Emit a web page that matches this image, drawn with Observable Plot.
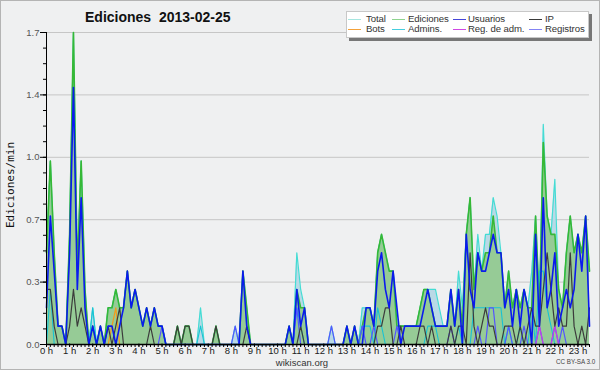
<!DOCTYPE html>
<html><head><meta charset="utf-8">
<script src="https://cdn.jsdelivr.net/npm/d3@7"></script>
<script src="https://cdn.jsdelivr.net/npm/@observablehq/plot@0.6"></script>
<style>
html,body{margin:0;padding:0;background:#f0f0f0}
#wrap{position:relative;width:600px;height:370px;background:#eff0f1;overflow:hidden;font-family:"Liberation Sans",Arial,sans-serif}
#frame{position:absolute;left:0;top:0;width:600px;height:370px;box-sizing:border-box;border:1px solid #b4b4b4;pointer-events:none}
#chart{position:absolute;left:0;top:0}
.t{position:absolute;white-space:pre;line-height:1}
#title{left:85px;top:10px;font-size:14px;font-weight:bold;color:#111}
#ylab{left:10px;top:185px;font-family:"DejaVu Sans Mono",monospace;font-size:11px;color:#111;transform:translate(-50%,-50%) rotate(-90deg)}
#site{left:302px;top:357.5px;font-size:9.5px;color:#333;transform:translateX(-50%)}
#cc{left:556px;top:359px;font-size:6.3px;color:#444}
#legend{position:absolute;left:346px;top:11px;width:243px;height:27px;background:#fff;border:1px solid #c8c8c8;box-shadow:3px 3px 0 #777;box-sizing:border-box}
.lg{position:absolute;font-size:9.6px;line-height:1;color:#333;white-space:pre;letter-spacing:-0.1px}
.sw{position:absolute;width:13px;height:1.2px}
</style></head>
<body><div id="wrap">
<div id="chart"></div>
<div class="t" id="title">Ediciones  2013-02-25</div>
<div class="t" id="ylab">Ediciones/min</div>
<div class="t" id="site">wikiscan.org</div>
<div class="t" id="cc">CC BY-SA 3.0</div>
<div id="legend"></div>
<div id="frame"></div>
</div>
<script>
// 10-minute buckets, 00:00 .. 23:30 (values in edits per minute)
const ediciones = [
 0.5,1.0,0.5,0.1,0.1,0,
 0.6,1.7,0.4,1.0,0.3,0,
 0.1,0,0.1,0,0.2,0.2,
 0.3,0.2,0.2,0.4,0.2,0.3,
 0.2,0.1,0.2,0.1,0.2,0.1,
 0.1,0,0,0,0.1,0,
 0.1,0.1,0,0,0,0,
 0,0,0.1,0,0,0,
 0,0,0,0.4,0.2,0,
 0,0,0,0,0,0,
 0,0,0,0.1,0,0.3,
 0.2,0.2,0,0,0,0,
 0,0,0,0,0,0,
 0.1,0,0.1,0,0.1,0.2,
 0.2,0.1,0.5,0.6,0.5,0.4,
 0.4,0.1,0.1,0.1,0.1,0.1,
 0.1,0.2,0.3,0.3,0.2,0.1,
 0.1,0.1,0.1,0.3,0.1,0.3,
 0.1,0.6,0.8,0.3,0.5,0.4,
 0.5,0.5,0.7,0.5,0.5,0.2,
 0.4,0.2,0.3,0.2,0.3,0.2,
 0.2,0.7,0.2,1.1,0.7,0.6,
 0.6,0.3,0.2,0.5,0.7,0.5,
 0.6,0.5,0.7,0.4];
const total = [
 0.5,1.0,0.5,0.1,0.1,0,
 0.6,1.7,0.4,1.0,0.3,0,
 0.2,0,0.1,0,0.2,0.2,
 0.3,0.2,0.2,0.4,0.2,0.3,
 0.2,0.1,0.2,0.1,0.2,0.1,
 0.1,0,0,0,0.1,0,
 0.1,0.1,0,0,0.2,0,
 0,0,0.1,0,0,0,
 0,0.1,0,0.4,0.2,0,
 0,0,0,0,0,0,
 0,0,0,0.1,0,0.5,
 0.3,0.2,0,0,0,0,
 0,0,0.1,0,0,0,
 0.1,0,0.1,0,0.2,0.2,
 0.2,0.1,0.5,0.6,0.5,0.4,
 0.4,0.1,0.1,0.1,0.1,0.1,
 0.1,0.2,0.3,0.3,0.3,0.3,
 0.2,0.1,0.1,0.3,0.1,0.4,
 0.2,0.6,0.8,0.3,0.6,0.4,
 0.6,0.6,0.8,0.7,0.5,0.2,
 0.4,0.2,0.3,0.2,0.3,0.2,
 0.4,0.7,0.2,1.2,0.7,0.6,
 0.9,0.3,0.2,0.5,0.7,0.5,
 0.6,0.5,0.7,0.4];
const usuarios = [
 0.2,0.7,0.4,0.1,0.1,0,
 0.5,1.4,0.3,0.8,0.2,0,
 0.1,0,0.1,0,0.1,0.1,
 0,0.1,0.2,0.4,0.2,0.3,
 0.2,0.1,0.2,0.1,0.2,0.1,
 0.1,0,0,0,0,0,
 0,0,0,0,0,0,
 0,0,0,0,0,0,
 0,0,0,0.4,0.1,0,
 0,0,0,0,0,0,
 0,0,0,0.1,0,0.3,
 0.1,0.2,0,0,0,0,
 0,0,0,0,0,0,
 0.1,0,0.1,0,0,0.2,
 0.2,0.1,0.4,0.5,0.3,0.2,
 0.4,0.2,0,0.1,0.1,0.1,
 0.1,0.1,0.2,0.3,0.2,0.1,
 0.1,0.1,0.1,0.3,0.1,0.3,
 0,0.6,0.3,0.2,0.5,0.4,
 0.4,0.5,0.6,0.5,0.5,0.2,
 0.3,0.1,0.3,0.1,0.3,0.2,
 0,0.6,0.1,0.8,0.2,0.3,
 0.5,0.1,0.2,0.3,0.2,0.3,
 0.6,0.4,0.7,0.1];
const ip = [
 0.3,0.3,0.1,0,0,0,
 0.1,0.3,0.1,0.2,0.1,0,
 0,0,0,0,0.1,0,
 0.1,0.2,0,0,0,0,
 0,0,0,0.1,0,0,
 0,0,0,0,0.1,0,
 0.1,0.1,0,0,0,0,
 0,0,0.1,0,0,0,
 0,0,0,0,0.1,0,
 0,0,0,0,0,0,
 0,0,0,0,0,0,
 0.1,0,0,0,0,0,
 0,0,0,0,0,0,
 0,0,0,0,0,0,
 0,0,0.1,0.1,0.2,0.2,
 0,0,0.1,0,0,0,
 0,0.1,0.1,0,0.1,0,
 0,0,0,0.1,0,0.1,
 0.1,0,0.5,0.1,0,0.1,
 0.2,0.1,0.1,0,0,0.1,
 0.1,0.1,0,0.1,0,0.1,
 0.2,0.1,0.1,0.3,0.5,0.3,
 0.1,0.2,0.1,0.1,0.5,0.1,
 0,0.1,0,0.2];
const bots = [
 0,0,0,0,0,0, 0,0,0,0,0,0, 0,0,0,0,0,0.1, 0.2,0,0,0,0,0,
 0,0,0,0,0,0, 0,0,0,0,0,0, 0,0,0,0,0,0, 0,0,0,0,0,0,
 0,0,0,0,0,0, 0,0,0,0,0,0, 0,0,0,0,0,0, 0,0,0,0,0,0,
 0,0,0,0,0,0, 0,0,0,0,0,0, 0,0,0,0,0,0, 0,0,0,0,0,0,
 0,0,0,0,0,0, 0,0,0,0,0,0, 0,0,0,0,0,0, 0,0,0,0,0,0,
 0,0,0,0,0,0, 0,0,0,0,0,0, 0,0,0,0,0,0, 0,0,0,0];
const admins = [
 0,0.3,0,0,0,0, 0,0,0,0,0,0, 0.2,0,0,0,0,0, 0,0,0,0,0,0,
 0,0,0,0,0,0, 0,0,0,0,0,0, 0,0,0,0,0.1,0, 0,0,0,0,0,0,
 0,0,0,0,0,0, 0,0,0,0,0,0, 0,0,0,0,0,0.2, 0.1,0,0,0,0,0,
 0,0,0,0,0,0, 0,0,0,0,0.1,0.1, 0.1,0,0.2,0.1,0,0, 0,0,0,0,0,0,
 0,0,0,0.1,0.1,0.1, 0,0,0,0,0,0.1, 0,0,0,0.2,0.2,0.2, 0.2,0.2,0.2,0.2,0.2,0,
 0.1,0,0,0.1,0,0, 0.2,0,0.4,0.4,0.2,0.1, 0,0,0,0,0,0, 0,0,0,0];
const regAdm = [
 0,0,0,0,0,0, 0,0,0,0,0,0, 0,0,0,0,0,0, 0,0,0,0,0,0,
 0,0,0,0,0,0, 0,0,0,0,0,0, 0,0,0,0,0,0, 0,0,0,0,0,0,
 0,0,0,0,0,0, 0,0,0,0,0,0, 0,0,0,0,0,0, 0,0,0,0,0,0,
 0,0,0,0,0,0, 0,0,0,0,0,0, 0,0,0,0,0,0, 0,0,0,0,0,0,
 0,0,0,0,0,0, 0,0,0,0,0,0, 0,0,0,0,0,0, 0,0,0,0,0,0,
 0,0,0,0,0,0, 0,0,0.1,0,0,0, 0.1,0,0,0,0,0, 0,0,0,0];
const registros = [
 0,0,0,0,0,0, 0,0,0,0,0,0, 0,0,0,0,0,0, 0,0,0,0,0,0,
 0,0,0,0,0,0, 0.1,0,0,0,0,0, 0,0,0,0,0,0, 0,0,0,0,0,0,
 0,0.1,0,0,0,0, 0,0,0,0,0,0, 0,0,0,0,0,0.2, 0,0,0,0,0,0,
 0,0,0.1,0,0,0, 0,0,0,0,0.1,0, 0,0.1,0,0,0,0, 0,0.1,0,0,0,0,
 0,0,0,0,0,0, 0,0,0,0.1,0,0, 0,0,0,0,0.1,0, 0,0.2,0.2,0,0,0,
 0.1,0,0,0,0.1,0, 0,0,0.1,0,0,0, 0.1,0,0.1,0,0,0, 0,0,0,0];

const hourLabels = d3.range(0,24).map(h => h + " h");
const yTickValues = [0, 0.34, 0.68, 1.02, 1.36, 1.7];
const legendNames = ["Total","Ediciones","Usuarios","IP","Bots","Admins.","Reg. de adm.","Registros"];
const legendColors = ["#a6e6e0","#8fd48f","#4646d8","#3a3a3a","#f4a23a","#46cede","#d048e4","#8484f4"];

const rows = ediciones.map((e,i) => ({
  t: i/6, ediciones: e, total: total[i], usuarios: usuarios[i], ip: ip[i],
  bots: bots[i], admins: admins[i], regAdm: regAdm[i], registros: registros[i]
}));

const yMinor = d3.range(0,21).map(k => k*0.085);
const xMinor = rows.map(d => d.t);
const xHours = d3.range(0,24);

const chart = Plot.plot({
  width: 600, height: 370,
  marginLeft: 46, marginRight: 11, marginTop: 32, marginBottom: 26,
  style: {background: "transparent", fontFamily: "Liberation Sans, Arial, sans-serif", fontSize: "10px", overflow: "visible"},
  x: {domain: [0, 141/6]},
  y: {domain: [0, 1.7]},
  marks: [
    Plot.gridY(yTickValues, {stroke: "#c6c6c6", strokeOpacity: 1}),
    Plot.areaY(rows, {x: "t", y: "total", fill: "#b9d9e6"}),
    Plot.areaY(rows, {x: "t", y: "ediciones", fill: "#96cb96"}),
    Plot.lineY(rows, {x: "t", y: "total", stroke: "#44dcd4", strokeWidth: 1.2}),
    Plot.lineY(rows, {x: "t", y: "ediciones", stroke: "#36b836", strokeWidth: 1.6}),
    Plot.lineY(rows, {x: "t", y: "admins", stroke: "#18c2d4", strokeWidth: 1.1}),
    Plot.lineY(rows, {x: "t", y: "registros", stroke: "#5454ff", strokeWidth: 1.2}),
    Plot.lineY(rows, {x: "t", y: "bots", stroke: "#f39a1a", strokeWidth: 1.2}),
    Plot.lineY(rows, {x: "t", y: "regAdm", stroke: "#c83ce8", strokeWidth: 1.2}),
    Plot.lineY(rows, {x: "t", y: "ip", stroke: "#3c3c3c", strokeWidth: 1.2}),
    Plot.lineY(rows, {x: "t", y: "usuarios", stroke: "#0a1aee", strokeWidth: 1.6}),
    Plot.axisY(yMinor, {tickSize: 3, tickFormat: () => "", stroke: "#000", label: null}),
    Plot.axisY(yTickValues, {tickSize: 6, tickPadding: 1, tickFormat: d3.format(".1f"), fill: "#555", stroke: "#000", fontSize: 9.5, label: null}),
    Plot.axisX(xMinor, {tickSize: 3, tickFormat: () => "", stroke: "#000", label: null}),
    Plot.axisX(xHours, {tickSize: 3, tickPadding: 0, tickFormat: h => hourLabels[h], fill: "#222", stroke: "#000", fontSize: 9.5, dy: -0.5, label: null}),
    Plot.ruleY([0], {stroke: "#000", strokeWidth: 1.5}),
    Plot.ruleX([0], {stroke: "#000", strokeWidth: 1})
  ]
});
document.getElementById("chart").appendChild(chart);

// legend
const lg = document.getElementById("legend");
const swX = [348, 392, 453, 529], txX = [366, 408, 468, 545];
const rowSw = [19, 29], rowTx = [14.3, 24.3];
legendNames.forEach((n, k) => {
  const c = k % 4, r = Math.floor(k / 4);
  const sw = document.createElement("div");
  sw.className = "sw"; sw.style.background = legendColors[k];
  sw.style.left = (swX[c] - 347) + "px"; sw.style.top = (rowSw[r] - 12) + "px";
  lg.appendChild(sw);
  const tx = document.createElement("div");
  tx.className = "lg"; tx.textContent = n;
  tx.style.left = (txX[c] - 347) + "px"; tx.style.top = (rowTx[r] - 12) + "px";
  lg.appendChild(tx);
});
</script>
</body></html>
